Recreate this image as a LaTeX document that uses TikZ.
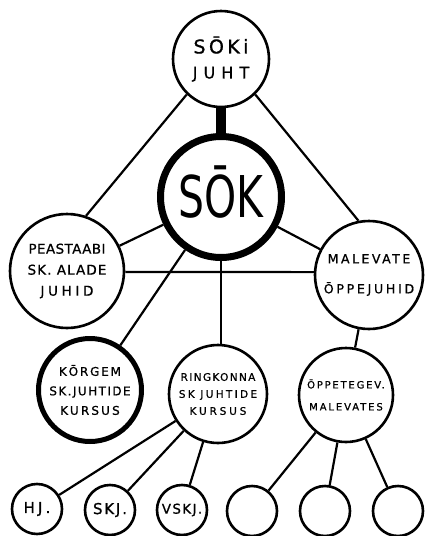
\documentclass[tikz,border=0pt]{standalone}
\usepackage{fontspec}
\setmainfont{DejaVu Sans}
\newfontfamily\lab[FakeBold=0.8]{DejaVu Sans}
\usepackage{graphicx}
\newcommand\lsp[2]{{\addfontfeature{LetterSpace=#1}#2}}
\begin{document}
\begin{tikzpicture}[x=1pt,y=-1pt,
  circ/.style={circle,draw,line width=2.6pt,fill=white,inner sep=0pt,align=center},
  small/.style={circ,minimum size=50pt,font=\lab\fontsize{15}{18}\selectfont},
  conn/.style={line width=2.2pt},
  bar/.style={line width=10pt}]
\fill[white] (0,0) rectangle (427,536);
\useasboundingbox (0,0) rectangle (427,536);

\node[circ,minimum size=96pt,font=\lab\fontsize{16}{25}\selectfont] (top) at (221,59)
  {{\fontsize{19}{25}\selectfont\lsp{18}{SŌKi}}\\\lsp{38}{JUHT}};
\node[circ,line width=7pt,minimum size=121pt] (sok) at (221,197) {};
\node[font=\fontsize{57.6}{60}\selectfont,inner sep=0pt,anchor=base] (soktxt)
  at ([yshift=-20pt]sok.center) {\scalebox{0.71}[1]{SŌK}};
\node[circ,minimum size=114pt,font=\lab\fontsize{13.5}{21}\selectfont] (peas) at (67,271)
  {\lsp{3}{PEASTAABI}\\\lsp{8}{SK. ALADE}\\\lsp{27}{JUHID}};
\node[circ,minimum size=108pt,font=\lab\fontsize{12.5}{30}\selectfont] (male) at (369,275)
  {\lsp{20}{MALEVATE}\\\lsp{22}{ŌPPEJUHID}};
\node[circ,line width=5pt,minimum size=103pt,font=\lab\fontsize{12}{19.5}\selectfont] (korg) at (90,390)
  {\lsp{15}{KŌRGEM}\\\lsp{12}{SK.JUHTIDE}\\\lsp{18}{KURSUS}};
\node[circ,minimum size=98pt,font=\lab\fontsize{10.5}{17}\selectfont] (ring) at (218,394)
  {\lsp{13}{RINGKONNA}\\\lsp{22}{SK JUHTIDE}\\\lsp{27}{KURSUS}};
\node[circ,minimum size=94pt,font=\lab\fontsize{10}{22}\selectfont] (opp) at (346,395)
  {\lsp{18}{ŌPPETEGEV.}\\\lsp{19}{MALEVATES}};

\node[small] (hj) at (37,509) {\lsp{21}{HJ.}};
\node[small] (skj) at (110,510) {\lsp{12}{SKJ.}};
\node[small,font=\lab\fontsize{13.5}{16}\selectfont] (vskj) at (182,510) {\lsp{10}{VSKJ.}};
\node[small] (e1) at (252,511) {};
\node[small] (e2) at (325,511) {};
\node[small] (e3) at (398,511) {};

\draw[conn] (top.226) -- (peas.71);
\draw[conn] (top.314) -- (male.101);
\draw[bar] (top.south) -- (sok.north);
\draw[conn] (sok) -- (peas);
\draw[conn] (sok) -- (male);
\draw[conn] (peas.-1) -- (male.177);
\draw[conn] (sok) -- (korg);
\draw[conn] (sok.south) -- (sok.south |- ring.north);
\draw[conn] (male) -- (opp);
\draw[conn] (ring) -- (hj);
\draw[conn] (ring) -- (skj);
\draw[conn] (ring) -- (vskj);
\draw[conn] (opp) -- (e1);
\draw[conn] (opp) -- (e2);
\draw[conn] (opp) -- (e3);
\end{tikzpicture}
\end{document}
